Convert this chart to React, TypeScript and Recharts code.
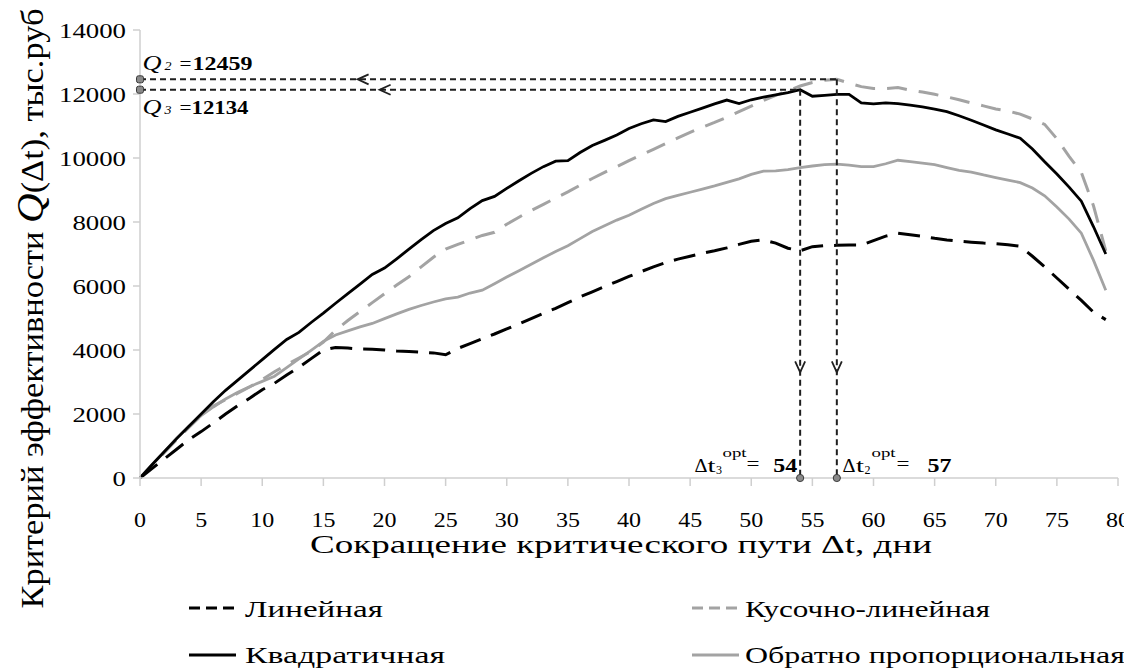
import React from "react";
import { LineChart, Line, XAxis, YAxis, ReferenceLine, ReferenceDot } from "recharts";

// ---- data ----
const days = [
  0, 1, 2, 3, 4, 5, 6, 7, 8, 9, 10, 11, 12, 13, 14, 15, 16, 17, 18, 19,
  20, 21, 22, 23, 24, 25, 26, 27, 28, 29, 30, 31, 32, 33, 34, 35, 36, 37, 38, 39,
  40, 41, 42, 43, 44, 45, 46, 47, 48, 49, 50, 51, 52, 53, 54, 55, 56, 57, 58, 59,
  60, 61, 62, 63, 64, 65, 66, 67, 68, 69, 70, 71, 72, 73, 74, 75, 76, 77, 78, 79,
];

const linearQ = [
  0, 300, 600, 900, 1200, 1450, 1720, 2000, 2260, 2500,
  2760, 2960, 3220, 3460, 3730, 4000, 4080, 4060, 4030, 4020,
  4000, 3970, 3950, 3930, 3910, 3850, 4050, 4200, 4350, 4500,
  4660, 4820, 4980, 5150, 5300, 5480, 5660, 5820, 5980, 6140,
  6300, 6450, 6600, 6730, 6840, 6930, 7020, 7100, 7190, 7300,
  7400, 7440, 7340, 7180, 7100, 7230, 7260, 7270, 7280, 7280,
  7420, 7560, 7650, 7600, 7550, 7490, 7440, 7400, 7370, 7340,
  7320, 7290, 7240, 6930, 6600, 6250, 5900, 5550, 5180, 4950,
];

const quadraticQ = [
  0, 420, 830, 1230, 1620, 2000, 2380, 2740, 3060, 3380,
  3700, 4020, 4330, 4550, 4860, 5150, 5460, 5760, 6060, 6360,
  6560, 6850, 7150, 7450, 7730, 7950, 8130, 8420, 8670, 8800,
  9050, 9290, 9520, 9730, 9900, 9920, 10170, 10390, 10550, 10720,
  10920, 11070, 11190, 11140, 11300, 11430, 11560, 11690, 11810, 11700,
  11820, 11900, 11970, 12040, 12134, 11930, 11960, 11990, 11990, 11720,
  11690, 11720, 11700, 11650, 11600, 11530, 11450, 11320, 11180, 11030,
  10880, 10750, 10620, 10280, 9880, 9500, 9090, 8650, 7850, 7000,
];

const piecewiseQ = [
  0, 400, 800, 1200, 1580, 1950, 2250, 2450, 2650, 2850,
  3080, 3320, 3540, 3750, 3960, 4250, 4620, 4920, 5200, 5480,
  5760, 6030, 6290, 6600, 6900, 7150, 7300, 7440, 7580, 7680,
  7930, 8150, 8360, 8550, 8750, 8940, 9150, 9360, 9550, 9730,
  9920, 10100, 10270, 10450, 10630, 10800, 10960, 11110, 11270, 11450,
  11620, 11800, 11960, 12100, 12250, 12360, 12430, 12459, 12340, 12230,
  12170, 12170, 12200, 12120, 12060, 11990, 11910, 11820, 11720, 11630,
  11530, 11470, 11370, 11220, 11050, 10600, 10050, 9550, 8500, 7100,
];

const inverseQ = [
  0, 420, 820, 1250, 1620, 1950, 2220, 2470, 2680, 2860,
  3020, 3180, 3450, 3720, 3990, 4270, 4470, 4600, 4720, 4830,
  4980, 5130, 5270, 5390, 5500, 5600, 5650, 5780, 5870, 6070,
  6280, 6480, 6680, 6880, 7080, 7260, 7480, 7700, 7880, 8060,
  8210, 8400, 8580, 8730, 8830, 8930, 9030, 9130, 9240, 9350,
  9490, 9590, 9600, 9640, 9700, 9750, 9790, 9810, 9780, 9730,
  9730, 9820, 9930, 9890, 9840, 9790, 9700, 9610, 9560, 9470,
  9390, 9310, 9230, 9060, 8820, 8470, 8090, 7650, 6800, 5870,
];

const xTicks = [0, 5, 10, 15, 20, 25, 30, 35, 40, 45, 50, 55, 60, 65, 70, 75, 80];
const yTicks = [0, 2000, 4000, 6000, 8000, 10000, 12000, 14000];

// optimum annotations
const Q2 = 12459;
const Q3 = 12134;
const T2 = 57;
const T3 = 54;
const arrowT = [17.8, 19.6]; // where the horizontal arrowheads sit (days)
const arrowQ = 3300; // where the vertical arrowheads sit (value)

const seriesNames = ["Линейная", "Квадратичная", "Кусочно-линейная", "Обратно пропорциональная"];

const data = days.map((t, i) => ({
  t,
  linear: linearQ[i],
  quad: quadraticQ[i],
  piece: piecewiseQ[i],
  inv: inverseQ[i],
}));

const FONT = "Liberation Serif, Times New Roman, DejaVu Serif, serif";
const GRAY = "#a3a3a3";
const AX = "#cfcfcf";
const ANN = "#1f1f1f";

type TP = {
  x: number;
  y: number;
  w?: number;
  size: number;
  bold?: boolean;
  italic?: boolean;
  anchor?: "start" | "middle" | "end";
  children: React.ReactNode;
};
const T = ({ x, y, w, size, bold, italic, anchor, children }: TP) => (
  <text
    x={x}
    y={y}
    style={{
      fontFamily: FONT,
      fontSize: size,
      fontWeight: bold ? "bold" : "normal",
      fontStyle: italic ? "italic" : "normal",
    }}
    textAnchor={anchor || "start"}
    fill="#000"
    textLength={w}
    lengthAdjust={w ? "spacingAndGlyphs" : undefined}
  >
    {children}
  </text>
);

const markerSquare = (cx: number, cy: number) => (
  <rect x={cx - 3.5} y={cy - 3.5} width={7} height={7} rx={2} fill="#8a8a8a" stroke="#3a3a3a" strokeWidth={1} />
);
const markerCircle = (cx: number, cy: number) => (
  <circle cx={cx} cy={cy} r={3.6} fill="#8a8a8a" stroke="#3a3a3a" strokeWidth={1} />
);

const Q2Shape = (p: any) => {
  const { cx, cy } = p;
  const by = cy - 9.3;
  return (
    <g>
      {markerSquare(cx, cy)}
      <T x={cx + 2.5} y={by} w={19} size={20} italic>Q</T>
      <T x={cx + 24.5} y={by} w={7} size={13} italic>2</T>
      <T x={cx + 39.5} y={by} w={12} size={18}>=</T>
      <T x={cx + 52.5} y={by} w={60} size={18} bold>{String(Q2)}</T>
    </g>
  );
};
const Q3Shape = (p: any) => {
  const { cx, cy } = p;
  const by = cy + 24.3;
  return (
    <g>
      {markerSquare(cx, cy)}
      <T x={cx + 2.5} y={by} w={19} size={20} italic>Q</T>
      <T x={cx + 24.5} y={by} w={7} size={13} italic>3</T>
      <T x={cx + 39.5} y={by} w={12} size={18}>=</T>
      <T x={cx + 51.5} y={by} w={57} size={18} bold>{String(Q3)}</T>
    </g>
  );
};
const T3Shape = (p: any) => {
  const { cx, cy } = p;
  const by = cy - 6;
  return (
    <g>
      <T x={cx - 105.6} y={by} w={13} size={18}>Δ</T>
      <T x={cx - 92.6} y={by} w={8} size={18}>t</T>
      <T x={cx - 84.1} y={by + 2} w={6} size={13}>3</T>
      <T x={cx - 77.6} y={by - 15} w={24} size={13}>opt</T>
      <T x={cx - 53.6} y={by - 2} w={13} size={18}>=</T>
      <T x={cx - 27} y={by} w={24} size={18} bold>{String(T3)}</T>
      {markerCircle(cx, cy)}
    </g>
  );
};
const T2Shape = (p: any) => {
  const { cx, cy } = p;
  const by = cy - 6;
  return (
    <g>
      <T x={cx + 5.7} y={by} w={13} size={18}>Δ</T>
      <T x={cx + 19.2} y={by} w={8} size={18}>t</T>
      <T x={cx + 27.7} y={by + 2} w={6} size={13}>2</T>
      <T x={cx + 34.7} y={by - 15} w={24} size={13}>opt</T>
      <T x={cx + 59.7} y={by - 2} w={13} size={18}>=</T>
      <T x={cx + 90.7} y={by} w={24} size={18} bold>{String(T2)}</T>
      {markerCircle(cx, cy)}
    </g>
  );
};
const ArrowLeft = (p: any) => (
  <path d={`M${p.cx + 11},${p.cy - 5} L${p.cx},${p.cy} L${p.cx + 11},${p.cy + 5}`} stroke={ANN} strokeWidth={1.8} fill="none" />
);
const ArrowDown = (p: any) => (
  <path d={`M${p.cx - 5},${p.cy - 11} L${p.cx},${p.cy} L${p.cx + 5},${p.cy - 11}`} stroke={ANN} strokeWidth={1.8} fill="none" />
);

const XTick = (p: any) => {
  const { x, y, payload } = p;
  const s = String(payload.value);
  return <T x={x} y={y + 14} size={20} w={s.length * 12} anchor="middle">{s}</T>;
};
const YTick = (p: any) => {
  const { x, y, payload } = p;
  const s = String(payload.value);
  return <T x={x} y={y + 7.5} size={21} w={s.length * 13.4} anchor="end">{s}</T>;
};

const W = 1124;
const H = 663;

export default function App() {
  return (
    <div style={{ position: "relative", width: W, height: H, fontFamily: FONT }}>
      <LineChart width={W} height={H} data={data} margin={{ top: 22, right: 14, left: 0, bottom: 0 }}>
        <XAxis
          dataKey="t"
          type="number"
          domain={[0, 80]}
          ticks={xTicks}
          interval={0}
          height={193}
          axisLine={{ stroke: AX, strokeWidth: 1.5 }}
          tickLine={{ stroke: AX, strokeWidth: 1.5 }}
          tickSize={8}
          tickMargin={27}
          tick={<XTick />}
        />
        <YAxis
          type="number"
          domain={[0, 14000]}
          ticks={yTicks}
          interval={0}
          width={132}
          axisLine={{ stroke: AX, strokeWidth: 1.5 }}
          tickLine={{ stroke: AX, strokeWidth: 1.5 }}
          tickSize={7}
          tickMargin={7}
          tick={<YTick />}
        />
        <Line dataKey="inv" name={seriesNames[3]} type="linear" stroke={GRAY} strokeWidth={2.8} dot={false} isAnimationActive={false} />
        <Line dataKey="piece" name={seriesNames[2]} type="linear" stroke={GRAY} strokeWidth={3} strokeDasharray="20 12" dot={false} isAnimationActive={false} />
        <Line dataKey="linear" name={seriesNames[0]} type="linear" stroke="#000" strokeWidth={3} strokeDasharray="22 11" dot={false} isAnimationActive={false} />
        <Line dataKey="quad" name={seriesNames[1]} type="linear" stroke="#000" strokeWidth={2.8} dot={false} isAnimationActive={false} />

        <ReferenceLine segment={[{ x: 0, y: Q2 }, { x: T2, y: Q2 }]} stroke={ANN} strokeWidth={2} strokeDasharray="6 4" />
        <ReferenceLine segment={[{ x: T2, y: Q2 }, { x: T2, y: 0 }]} stroke={ANN} strokeWidth={2} strokeDasharray="6 4" />
        <ReferenceLine segment={[{ x: 0, y: Q3 }, { x: T3, y: Q3 }]} stroke={ANN} strokeWidth={2} strokeDasharray="6 4" />
        <ReferenceLine segment={[{ x: T3, y: Q3 }, { x: T3, y: 0 }]} stroke={ANN} strokeWidth={2} strokeDasharray="6 4" />

        <ReferenceDot x={arrowT[0]} y={Q2} r={1} shape={ArrowLeft} ifOverflow="visible" />
        <ReferenceDot x={arrowT[1]} y={Q3} r={1} shape={ArrowLeft} ifOverflow="visible" />
        <ReferenceDot x={T3} y={arrowQ} r={1} shape={ArrowDown} ifOverflow="visible" />
        <ReferenceDot x={T2} y={arrowQ} r={1} shape={ArrowDown} ifOverflow="visible" />

        <ReferenceDot x={0} y={Q2} r={1} shape={Q2Shape} ifOverflow="visible" />
        <ReferenceDot x={0} y={Q3} r={1} shape={Q3Shape} ifOverflow="visible" />
        <ReferenceDot x={T3} y={0} r={1} shape={T3Shape} ifOverflow="visible" />
        <ReferenceDot x={T2} y={0} r={1} shape={T2Shape} ifOverflow="visible" />
      </LineChart>

      <svg width={W} height={H} style={{ position: "absolute", left: 0, top: 0, pointerEvents: "none" }}>
        {/* Y axis title */}
        <text
          transform="translate(35,300.5) scale(1.25,1) rotate(-90)"
          textAnchor="middle"
          style={{ fontFamily: FONT, fontSize: 26 }}
          fill="#000"
          textLength={600}
          lengthAdjust="spacingAndGlyphs"
        >
          Критерий эффективности <tspan style={{ fontStyle: "italic", fontSize: 31 }}>Q</tspan>(Δt), тыс.руб
        </text>
        {/* X axis title */}
        <T x={613} y={545} w={622} size={25} anchor="middle">Сокращение критического пути Δt, дни</T>

        {/* legend */}
        <line x1={181} x2={228} y1={600} y2={600} stroke="#000" strokeWidth={3} strokeDasharray="11 6" />
        <T x={237} y={609} w={138} size={23}>{seriesNames[0]}</T>
        <line x1={181} x2={228} y1={647} y2={647} stroke="#000" strokeWidth={3} />
        <T x={237} y={655} w={200} size={23}>{seriesNames[1]}</T>
        <line x1={684} x2={731} y1={600} y2={600} stroke={GRAY} strokeWidth={3} strokeDasharray="11 6" />
        <T x={737} y={609} w={245} size={23}>{seriesNames[2]}</T>
        <line x1={684} x2={731} y1={647} y2={647} stroke={GRAY} strokeWidth={3} />
        <T x={737} y={655} w={380} size={23}>{seriesNames[3]}</T>
      </svg>
    </div>
  );
}
